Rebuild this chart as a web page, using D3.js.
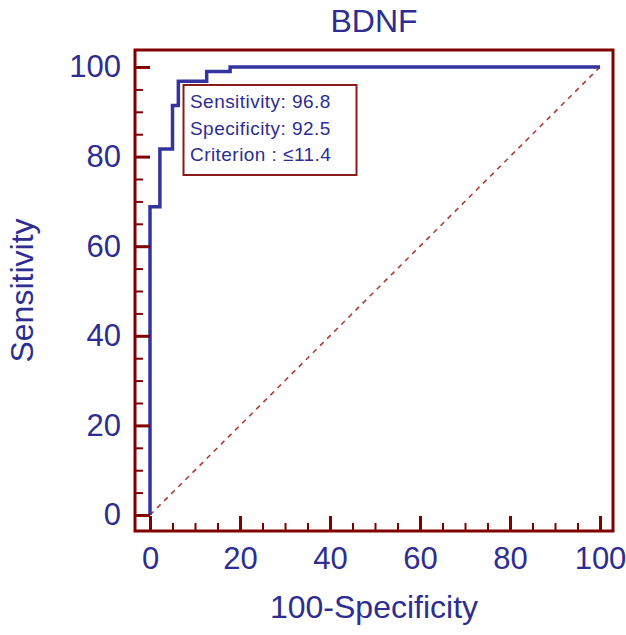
<!DOCTYPE html>
<html><head><meta charset="utf-8">
<script src="https://cdn.jsdelivr.net/npm/d3@7"></script>
<style>body{margin:0;background:#fff}svg{display:block}</style>
</head><body>
<svg id="c" width="626" height="635"></svg>
<script>
// ---- data ----
const title = "BDNF";
const xTitle = "100-Specificity";
const yTitle = "Sensitivity";
const fpr  = [0, 2.2, 5.0, 6.3, 12.6, 17.8, 100];
const sens = [0, 68.8, 81.7, 91.4, 96.8, 99.0, 100];
const majorTicks = [0, 20, 40, 60, 80, 100];
const minorTicks = d3.range(0, 101, 5).filter(v => v % 20 !== 0);
const boxLines = ["Sensitivity: 96.8", "Specificity: 92.5", "Criterion : \u226411.4"];

// ---- layout ----
const svg = d3.select("#c");
const frame = {l:135, t:50, r:613, b:531};
const x = d3.scaleLinear().domain([0,100]).range([150,600]);
const y = d3.scaleLinear().domain([0,100]).range([515,67]);
const textCol = "#2d2d92", frameCol = "#800000", curveCol = "#3434a0";
const font = "Liberation Sans, Arial, sans-serif";

// diagonal reference
svg.append("line")
  .attr("x1", x(0)).attr("y1", y(0)).attr("x2", x(100)).attr("y2", y(100))
  .attr("stroke", "#b03a3a").attr("stroke-width", 1.6).attr("stroke-dasharray", "5,5");

// ROC curve
const line = d3.line().x(d => x(d[0])).y(d => y(d[1])).curve(d3.curveStepBefore);
svg.append("path").datum(d3.zip(fpr, sens)).attr("d", line)
  .attr("fill", "none").attr("stroke", curveCol).attr("stroke-width", 3.5)
  .attr("stroke-linejoin", "miter");

// axes: minor ticks
function styleAxis(g, w) {
  g.select(".domain").remove();
  g.selectAll(".tick line").attr("stroke", frameCol).attr("stroke-width", w);
}
svg.append("g").attr("transform", `translate(0,${frame.b})`)
  .call(d3.axisBottom(x).tickValues(minorTicks).tickSize(-8).tickFormat(""))
  .call(g => styleAxis(g, 2));
svg.append("g").attr("transform", `translate(${frame.l},0)`)
  .call(d3.axisLeft(y).tickValues(minorTicks).tickSize(-8).tickFormat(""))
  .call(g => styleAxis(g, 2));
// major ticks with labels
svg.append("g").attr("transform", `translate(0,${frame.b})`)
  .call(d3.axisBottom(x).tickValues(majorTicks).tickSize(-15).tickPadding(16).tickFormat(d3.format("d")))
  .call(g => styleAxis(g, 3));
svg.append("g").attr("transform", `translate(${frame.l},0)`)
  .call(d3.axisLeft(y).tickValues(majorTicks).tickSize(-15).tickPadding(14).tickFormat(d3.format("d")))
  .call(g => styleAxis(g, 3));
svg.selectAll(".tick text").attr("fill", textCol).attr("font-family", font).attr("font-size", 31);

// frame
svg.append("rect").attr("x", frame.l).attr("y", frame.t)
  .attr("width", frame.r - frame.l).attr("height", frame.b - frame.t)
  .attr("fill", "none").attr("stroke", frameCol).attr("stroke-width", 3);

// titles
svg.append("text").attr("x", (frame.l + frame.r) / 2).attr("y", 32)
  .attr("text-anchor", "middle").attr("fill", textCol).attr("font-family", font).attr("font-size", 32)
  .text(title);
svg.append("text").attr("x", (frame.l + frame.r) / 2).attr("y", 618)
  .attr("text-anchor", "middle").attr("fill", textCol).attr("font-family", font).attr("font-size", 32)
  .text(xTitle);
svg.append("text").attr("transform", `translate(33,${(frame.t + frame.b) / 2}) rotate(-90)`)
  .attr("text-anchor", "middle").attr("fill", textCol).attr("font-family", font).attr("font-size", 32)
  .text(yTitle);

// annotation box
const box = svg.append("g");
box.append("rect").attr("x", 183.5).attr("y", 85).attr("width", 173).attr("height", 90)
  .attr("fill", "#fff").attr("stroke", "#8b1a1a").attr("stroke-width", 2);
box.selectAll("text").data(boxLines).join("text")
  .attr("x", 190).attr("y", (d, i) => 108 + i * 26.7)
  .attr("fill", textCol).attr("font-family", font).attr("font-size", 19)
  .attr("letter-spacing", 0.45)
  .text(d => d);
</script>
</body></html>
